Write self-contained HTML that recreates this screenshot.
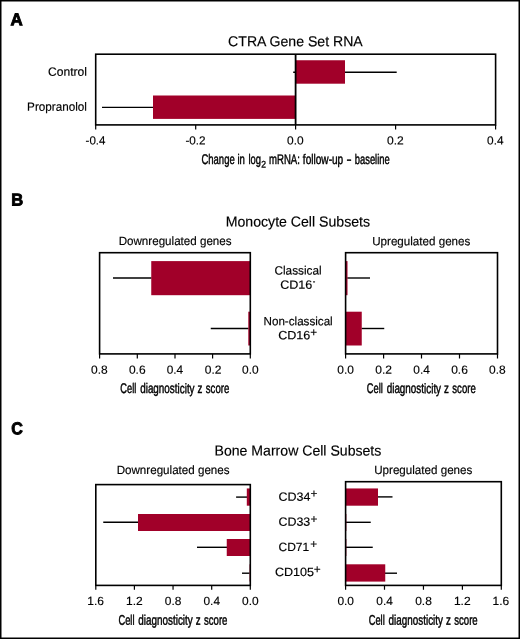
<!DOCTYPE html>
<html lang="en">
<head>
<meta charset="utf-8">
<title>CTRA Gene Set RNA figure</title>
<style>
  html, body { margin: 0; padding: 0; background: #fff; }
  body { width: 520px; height: 639px; overflow: hidden; }
  svg { display: block; will-change: transform; }
  text { font-family: "Liberation Sans", Arial, Helvetica, sans-serif; fill: #000; stroke: #000; stroke-width: 0.16px; text-rendering: geometricPrecision; }
  .pl { font-weight: bold; font-size: 16.7px; fill: #000; stroke: #000; stroke-width: 0.9px; stroke-linejoin: miter; }
  .ttl { font-size: 14.5px; }
  .lab { font-size: 12.0px; }
  .tk { font-size: 11.9px; }
  .ax { font-size: 14.0px; stroke: #000; stroke-width: 0.46px; }
  .sub { font-size: 9.6px; stroke: #000; stroke-width: 0.3px; }
  .plus { font-size: 11.8px; }
  .minus { font-size: 10.2px; }
  .bar { fill: #a10029; }
  .ln { stroke: #000; stroke-width: 1.6; fill: none; }
  .tkl { stroke: #000; stroke-width: 1.2; fill: none; }
  .eb { stroke: #000; stroke-width: 1.4; fill: none; }
</style>
</head>
<body>
<svg xmlns="http://www.w3.org/2000/svg" width="520" height="639" viewBox="0 0 520 639">
  <rect x="0" y="0" width="520" height="639" fill="#fff"/>
  <!-- outer frame -->
  <rect x="0.75" y="0.75" width="518.5" height="637.5" fill="none" stroke="#000" stroke-width="1.5"/>

  <g id="panelA">
    <text class="pl" x="10.58" y="25.3" transform="rotate(0.05 10.58 25.3)" textLength="12.22" lengthAdjust="spacingAndGlyphs" style="font-size:17.0px">A</text>
    <text class="ttl" x="228.11" y="46.15" transform="rotate(0.05 228.11 46.15)" textLength="134.63" lengthAdjust="spacingAndGlyphs">CTRA Gene Set RNA</text>
    <line class="eb" x1="293.2" y1="72.25" x2="396.7" y2="72.25"/>
    <line class="eb" x1="102" y1="107.4" x2="153.5" y2="107.4"/>
    <rect class="bar" x="295.6" y="60.25" width="49.4" height="23.45"/>
    <rect class="bar" x="153" y="95.5" width="142.6" height="23.4"/>
    <rect class="ln" x="95.7" y="54.2" width="399.9" height="70.7"/>
    <line class="ln" x1="295.6" y1="54.2" x2="295.6" y2="124.9" style="stroke-width:1.8"/>
    <path class="tkl" d="M95.7 124.9V129.6 M195.7 124.9V129.6 M295.6 124.9V129.6 M395.6 124.9V129.6 M495.6 124.9V129.6"/>
    <text class="lab" x="47.97" y="75.8" transform="rotate(0.05 47.97 75.8)" textLength="38.96" lengthAdjust="spacingAndGlyphs">Control</text>
    <text class="lab" x="27.12" y="110.7" transform="rotate(0.05 27.12 110.7)" textLength="59.78" lengthAdjust="spacingAndGlyphs">Propranolol</text>
    <text class="tk" x="85.57" y="144.45" transform="rotate(0.05 85.57 144.45)" textLength="19.89" lengthAdjust="spacingAndGlyphs">-0.4</text>
    <text class="tk" x="185.46" y="144.45" transform="rotate(0.05 185.46 144.45)" textLength="20.15" lengthAdjust="spacingAndGlyphs">-0.2</text>
    <text class="tk" x="287.11" y="144.45" transform="rotate(0.05 287.11 144.45)" textLength="16.57" lengthAdjust="spacingAndGlyphs">0.0</text>
    <text class="tk" x="387.06" y="144.45" transform="rotate(0.05 387.06 144.45)" textLength="16.71" lengthAdjust="spacingAndGlyphs">0.2</text>
    <text class="tk" x="487.07" y="144.45" transform="rotate(0.05 487.07 144.45)" textLength="16.45" lengthAdjust="spacingAndGlyphs">0.4</text>
    <text class="ax" x="201.42" y="163.95" transform="rotate(0.05 201.42 163.95)" textLength="33.31" lengthAdjust="spacingAndGlyphs">Change</text>
    <text class="ax" x="237.46" y="163.95" transform="rotate(0.05 237.46 163.95)" textLength="7.46" lengthAdjust="spacingAndGlyphs">in</text>
    <text class="ax" x="248.47" y="163.95" transform="rotate(0.05 248.47 163.95)" textLength="12.54" lengthAdjust="spacingAndGlyphs">log</text>
    <text class="sub" x="261.22" y="167.5" transform="rotate(0.05 261.22 167.5)" textLength="4.76" lengthAdjust="spacingAndGlyphs">2</text>
    <text class="ax" x="269.07" y="163.95" transform="rotate(0.05 269.07 163.95)" textLength="30.81" lengthAdjust="spacingAndGlyphs">mRNA:</text>
    <text class="ax" x="302.86" y="163.95" transform="rotate(0.05 302.86 163.95)" textLength="40.37" lengthAdjust="spacingAndGlyphs">follow-up</text>
    <text class="ax" x="346.53" y="163.95" transform="rotate(0.05 346.53 163.95)" textLength="5.05" lengthAdjust="spacingAndGlyphs">-</text>
    <text class="ax" x="354.8" y="163.95" transform="rotate(0.05 354.8 163.95)" textLength="34.92" lengthAdjust="spacingAndGlyphs">baseline</text>
  </g>
  <g id="panelB">
    <text class="pl" x="11.14" y="205.45" transform="rotate(0.05 11.14 205.45)" textLength="11.96" lengthAdjust="spacingAndGlyphs" style="font-size:17.0px">B</text>
    <text class="ttl" x="225.72" y="226.45" transform="rotate(0.05 225.72 226.45)" textLength="144.31" lengthAdjust="spacingAndGlyphs">Monocyte Cell Subsets</text>
    <text class="lab" x="118.63" y="245.0" transform="rotate(0.05 118.63 245.0)" textLength="112.96" lengthAdjust="spacingAndGlyphs">Downregulated genes</text>
    <text class="lab" x="372.18" y="245.2" transform="rotate(0.05 372.18 245.2)" textLength="98.16" lengthAdjust="spacingAndGlyphs">Upregulated genes</text>
    <line class="eb" x1="113" y1="278" x2="151.6" y2="278"/>
    <line class="eb" x1="210.75" y1="328.5" x2="248.6" y2="328.5"/>
    <rect class="bar" x="151.25" y="261.1" width="99.05" height="34.1"/>
    <rect class="bar" x="248.3" y="311.7" width="2.0" height="33.8"/>
    <rect class="ln" x="99.6" y="252.7" width="150.7" height="101.2"/>
    <path class="tkl" d="M99.6 353.9V358.5 M137.3 353.9V358.5 M175.0 353.9V358.5 M212.6 353.9V358.5 M250.3 353.9V358.5"/>
    <line class="eb" x1="347.2" y1="278" x2="370" y2="278"/>
    <line class="eb" x1="361.5" y1="328.5" x2="384.25" y2="328.5"/>
    <rect class="bar" x="345.6" y="261.1" width="1.9" height="34.1"/>
    <rect class="bar" x="345.6" y="311.7" width="16.15" height="33.8"/>
    <rect class="ln" x="345.6" y="252.7" width="151.9" height="101.2"/>
    <path class="tkl" d="M345.6 353.9V358.5 M383.6 353.9V358.5 M421.5 353.9V358.5 M459.5 353.9V358.5 M497.5 353.9V358.5"/>
    <text class="lab" x="274.48" y="274.5" transform="rotate(0.05 274.48 274.5)" textLength="47.23" lengthAdjust="spacingAndGlyphs">Classical</text>
    <text class="lab" x="280.19" y="288.7" transform="rotate(0.05 280.19 288.7)" textLength="32.18" lengthAdjust="spacingAndGlyphs">CD16</text>
    <text class="minus" x="312.75" y="284.4" transform="rotate(0.05 312.75 284.4)" textLength="2.59" lengthAdjust="spacingAndGlyphs">-</text>
    <text class="lab" x="263.53" y="325.3" transform="rotate(0.05 263.53 325.3)" textLength="69.17" lengthAdjust="spacingAndGlyphs">Non-classical</text>
    <text class="lab" x="278.19" y="339.3" transform="rotate(0.05 278.19 339.3)" textLength="32.18" lengthAdjust="spacingAndGlyphs">CD16</text>
    <text class="plus" x="310.32" y="336.2" transform="rotate(0.05 310.32 336.2)" textLength="6.91" lengthAdjust="spacingAndGlyphs">+</text>
    <text class="tk" x="91.11" y="373.7" transform="rotate(0.05 91.11 373.7)" textLength="16.63" lengthAdjust="spacingAndGlyphs">0.8</text>
    <text class="tk" x="128.91" y="373.7" transform="rotate(0.05 128.91 373.7)" textLength="16.63" lengthAdjust="spacingAndGlyphs">0.6</text>
    <text class="tk" x="166.72" y="373.7" transform="rotate(0.05 166.72 373.7)" textLength="16.45" lengthAdjust="spacingAndGlyphs">0.4</text>
    <text class="tk" x="204.71" y="373.7" transform="rotate(0.05 204.71 373.7)" textLength="16.71" lengthAdjust="spacingAndGlyphs">0.2</text>
    <text class="tk" x="242.11" y="373.7" transform="rotate(0.05 242.11 373.7)" textLength="16.57" lengthAdjust="spacingAndGlyphs">0.0</text>
    <text class="tk" x="337.31" y="373.7" transform="rotate(0.05 337.31 373.7)" textLength="16.57" lengthAdjust="spacingAndGlyphs">0.0</text>
    <text class="tk" x="375.31" y="373.7" transform="rotate(0.05 375.31 373.7)" textLength="16.71" lengthAdjust="spacingAndGlyphs">0.2</text>
    <text class="tk" x="413.32" y="373.7" transform="rotate(0.05 413.32 373.7)" textLength="16.45" lengthAdjust="spacingAndGlyphs">0.4</text>
    <text class="tk" x="451.21" y="373.7" transform="rotate(0.05 451.21 373.7)" textLength="16.63" lengthAdjust="spacingAndGlyphs">0.6</text>
    <text class="tk" x="489.01" y="373.7" transform="rotate(0.05 489.01 373.7)" textLength="16.63" lengthAdjust="spacingAndGlyphs">0.8</text>
    <text class="ax" x="120.33" y="393.1" transform="rotate(0.05 120.33 393.1)" textLength="15.99" lengthAdjust="spacingAndGlyphs">Cell</text>
    <text class="ax" x="140.19" y="393.1" transform="rotate(0.05 140.19 393.1)" textLength="54.38" lengthAdjust="spacingAndGlyphs">diagnosticity</text>
    <text class="ax" x="197.6" y="393.1" transform="rotate(0.05 197.6 393.1)" textLength="4.88" lengthAdjust="spacingAndGlyphs">z</text>
    <text class="ax" x="205.83" y="393.1" transform="rotate(0.05 205.83 393.1)" textLength="23.44" lengthAdjust="spacingAndGlyphs">score</text>
    <text class="ax" x="366.83" y="393.1" transform="rotate(0.05 366.83 393.1)" textLength="15.99" lengthAdjust="spacingAndGlyphs">Cell</text>
    <text class="ax" x="386.69" y="393.1" transform="rotate(0.05 386.69 393.1)" textLength="54.38" lengthAdjust="spacingAndGlyphs">diagnosticity</text>
    <text class="ax" x="444.1" y="393.1" transform="rotate(0.05 444.1 393.1)" textLength="4.88" lengthAdjust="spacingAndGlyphs">z</text>
    <text class="ax" x="452.33" y="393.1" transform="rotate(0.05 452.33 393.1)" textLength="23.44" lengthAdjust="spacingAndGlyphs">score</text>
  </g>
  <g id="panelC">
    <text class="pl" x="11.19" y="434.3" transform="rotate(0.05 11.19 434.3)" textLength="11.6" lengthAdjust="spacingAndGlyphs" style="font-size:17.1px">C</text>
    <text class="ttl" x="214.57" y="455.4" transform="rotate(0.05 214.57 455.4)" textLength="166.75" lengthAdjust="spacingAndGlyphs">Bone Marrow Cell Subsets</text>
    <text class="lab" x="116.63" y="474.0" transform="rotate(0.05 116.63 474.0)" textLength="112.96" lengthAdjust="spacingAndGlyphs">Downregulated genes</text>
    <text class="lab" x="374.18" y="474.0" transform="rotate(0.05 374.18 474.0)" textLength="98.16" lengthAdjust="spacingAndGlyphs">Upregulated genes</text>
    <line class="eb" x1="236.1" y1="497.1" x2="247.2" y2="497.1"/>
    <line class="eb" x1="103.25" y1="522.3" x2="138.4" y2="522.3"/>
    <line class="eb" x1="197" y1="547.3" x2="227.1" y2="547.3"/>
    <line class="eb" x1="242" y1="573.2" x2="249.6" y2="573.2"/>
    <rect class="bar" x="246.8" y="488.45" width="3.5" height="17.25"/>
    <rect class="bar" x="138" y="514.0" width="112.3" height="17.0"/>
    <rect class="bar" x="226.75" y="539.0" width="23.55" height="17.0"/>
    <rect class="bar" x="249.4" y="564.3" width="0.9" height="17.2" opacity="0.7"/>
    <rect class="ln" x="95.8" y="484.6" width="154.5" height="100.8"/>
    <path class="tkl" d="M95.8 585.4V589.8 M134.4 585.4V589.8 M173.05 585.4V589.8 M211.7 585.4V589.8 M250.3 585.4V589.8"/>
    <line class="eb" x1="377.6" y1="496.9" x2="392.5" y2="496.9"/>
    <line class="eb" x1="346" y1="522.3" x2="370.75" y2="522.3"/>
    <line class="eb" x1="346" y1="547.3" x2="372.75" y2="547.3"/>
    <line class="eb" x1="384.9" y1="573.2" x2="397" y2="573.2"/>
    <rect class="bar" x="345.6" y="488.45" width="32.4" height="17.25"/>
    <rect class="bar" x="345.6" y="514.0" width="1.0" height="17.0" opacity="0.55"/>
    <rect class="bar" x="345.6" y="539.0" width="1.0" height="17.0" opacity="0.55"/>
    <rect class="bar" x="345.6" y="564.3" width="39.65" height="17.3"/>
    <rect class="ln" x="345.6" y="481.7" width="155.7" height="103.7"/>
    <path class="tkl" d="M345.6 585.4V589.8 M384.5 585.4V589.8 M423.45 585.4V589.8 M462.4 585.4V589.8 M501.3 585.4V589.8"/>
    <text class="lab" x="278.44" y="500.7" transform="rotate(0.05 278.44 500.7)" textLength="31.99" lengthAdjust="spacingAndGlyphs">CD34</text>
    <text class="plus" x="310.42" y="497.6" transform="rotate(0.05 310.42 497.6)" textLength="6.91" lengthAdjust="spacingAndGlyphs">+</text>
    <text class="lab" x="278.45" y="525.8" transform="rotate(0.05 278.45 525.8)" textLength="31.82" lengthAdjust="spacingAndGlyphs">CD33</text>
    <text class="plus" x="310.42" y="522.9" transform="rotate(0.05 310.42 522.9)" textLength="6.91" lengthAdjust="spacingAndGlyphs">+</text>
    <text class="lab" x="278.47" y="551.1" transform="rotate(0.05 278.47 551.1)" textLength="30.69" lengthAdjust="spacingAndGlyphs">CD71</text>
    <text class="plus" x="310.22" y="547.9" transform="rotate(0.05 310.22 547.9)" textLength="6.91" lengthAdjust="spacingAndGlyphs">+</text>
    <text class="lab" x="274.94" y="576.1" transform="rotate(0.05 274.94 576.1)" textLength="39.11" lengthAdjust="spacingAndGlyphs">CD105</text>
    <text class="plus" x="313.82" y="573.35" transform="rotate(0.05 313.82 573.35)" textLength="6.91" lengthAdjust="spacingAndGlyphs">+</text>
    <text class="tk" x="87.32" y="605.0" transform="rotate(0.05 87.32 605.0)" textLength="16.57" lengthAdjust="spacingAndGlyphs">1.6</text>
    <text class="tk" x="126.02" y="605.0" transform="rotate(0.05 126.02 605.0)" textLength="16.66" lengthAdjust="spacingAndGlyphs">1.2</text>
    <text class="tk" x="164.81" y="605.0" transform="rotate(0.05 164.81 605.0)" textLength="16.63" lengthAdjust="spacingAndGlyphs">0.8</text>
    <text class="tk" x="203.52" y="605.0" transform="rotate(0.05 203.52 605.0)" textLength="16.45" lengthAdjust="spacingAndGlyphs">0.4</text>
    <text class="tk" x="242.11" y="605.0" transform="rotate(0.05 242.11 605.0)" textLength="16.57" lengthAdjust="spacingAndGlyphs">0.0</text>
    <text class="tk" x="337.41" y="605.0" transform="rotate(0.05 337.41 605.0)" textLength="16.57" lengthAdjust="spacingAndGlyphs">0.0</text>
    <text class="tk" x="376.32" y="605.0" transform="rotate(0.05 376.32 605.0)" textLength="16.45" lengthAdjust="spacingAndGlyphs">0.4</text>
    <text class="tk" x="415.21" y="605.0" transform="rotate(0.05 415.21 605.0)" textLength="16.63" lengthAdjust="spacingAndGlyphs">0.8</text>
    <text class="tk" x="453.92" y="605.0" transform="rotate(0.05 453.92 605.0)" textLength="16.66" lengthAdjust="spacingAndGlyphs">1.2</text>
    <text class="tk" x="492.62" y="605.0" transform="rotate(0.05 492.62 605.0)" textLength="16.57" lengthAdjust="spacingAndGlyphs">1.6</text>
    <text class="ax" x="118.48" y="624.7" transform="rotate(0.05 118.48 624.7)" textLength="15.99" lengthAdjust="spacingAndGlyphs">Cell</text>
    <text class="ax" x="138.34" y="624.7" transform="rotate(0.05 138.34 624.7)" textLength="54.38" lengthAdjust="spacingAndGlyphs">diagnosticity</text>
    <text class="ax" x="195.75" y="624.7" transform="rotate(0.05 195.75 624.7)" textLength="4.88" lengthAdjust="spacingAndGlyphs">z</text>
    <text class="ax" x="203.98" y="624.7" transform="rotate(0.05 203.98 624.7)" textLength="23.44" lengthAdjust="spacingAndGlyphs">score</text>
    <text class="ax" x="368.73" y="624.7" transform="rotate(0.05 368.73 624.7)" textLength="15.99" lengthAdjust="spacingAndGlyphs">Cell</text>
    <text class="ax" x="388.58" y="624.7" transform="rotate(0.05 388.58 624.7)" textLength="54.38" lengthAdjust="spacingAndGlyphs">diagnosticity</text>
    <text class="ax" x="446.0" y="624.7" transform="rotate(0.05 446.0 624.7)" textLength="4.88" lengthAdjust="spacingAndGlyphs">z</text>
    <text class="ax" x="454.23" y="624.7" transform="rotate(0.05 454.23 624.7)" textLength="23.44" lengthAdjust="spacingAndGlyphs">score</text>
  </g>
</svg>
</body>
</html>
